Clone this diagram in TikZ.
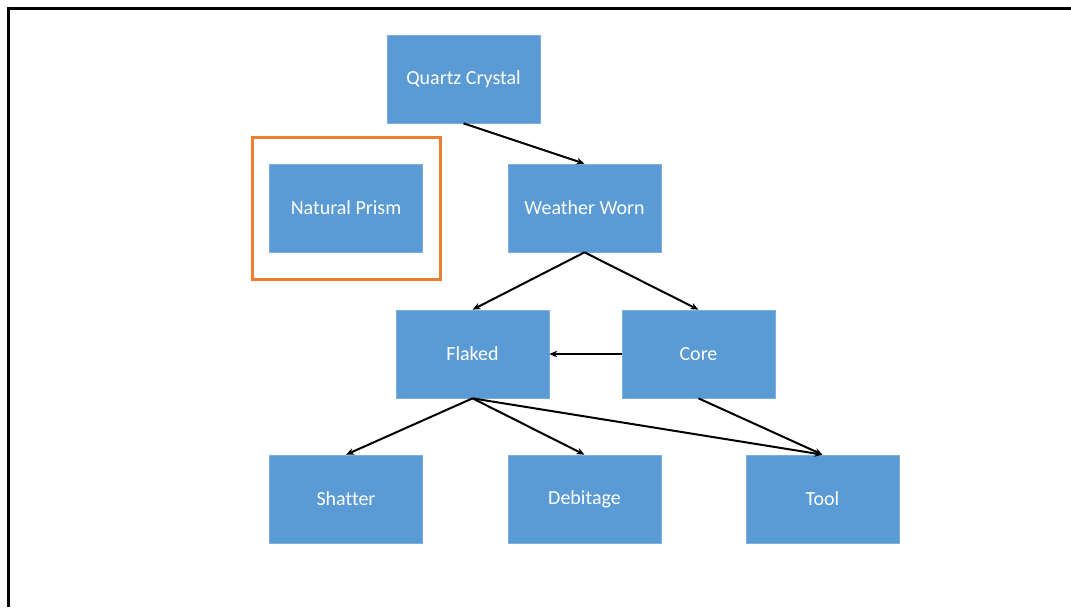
\documentclass[tikz,border=0pt]{standalone}
\usepackage{fontspec}
\setmainfont{Carlito}[Ligatures=NoCommon]
\usepackage{tikz}
\usetikzlibrary{arrows.meta}
\definecolor{boxblue}{HTML}{5B9BD5}
\definecolor{frameorange}{HTML}{ED7D31}

\begin{document}
\begin{tikzpicture}[x=0.75pt, y=-0.75pt, line width=1.5pt, >={Stealth[length=6pt,width=5pt]},
	main/.style = {draw=boxblue!80!white, line width=0.5pt, fill=boxblue, text=white, minimum width=114.75pt, minimum height=66pt, inner sep=0pt, font=\fontsize{15}{18}\selectfont}]
	\useasboundingbox (0,0) rectangle (1071,607);
	\draw[line width=2.25pt] (8,607) -- (8,8) -- (1071,8);
			\node[main] (1) at (463.5,79) {Quartz Crystal};
			\node[main] (2) at (584.5,208) {Weather Worn};
			\node[main] (3) at (346,208) {Natural Prism};
			\node[main] (4) at (472.5,354) {Flaked};
			\node[main] (5) at (698.5,354) {Core};
			\node[main] (6) at (346,499) {Shatter};
			\node[main] (7) at (584.5,499) {Debitage};
			\node[main] (8) at (822.5,499) {Tool};

			\draw[frameorange, line width=2.25pt] (252,137) rectangle (440,279);

			\draw[->] (1.south) -- (2.north);
			\draw[->] (2.south) -- (4.north);
			\draw[->] (2.south) -- (5.north);
			\draw[->] (5.west) -- (4.east);
			\draw[->] (4.south) -- (6.north);
			\draw[->] (4.south) -- (7.north);
			\draw[->] (4.south) -- (8.north);
			\draw[->] (5.south) -- (8.north);
		\end{tikzpicture}
\end{document}
